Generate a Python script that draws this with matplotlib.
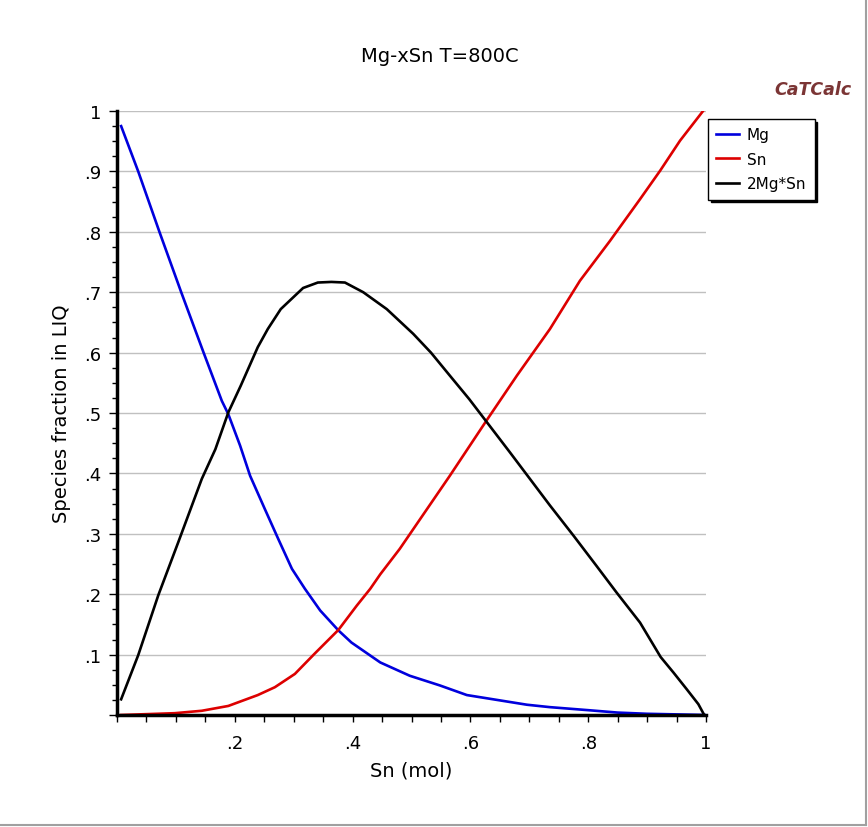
import numpy as np
import matplotlib
matplotlib.use('Agg')
import matplotlib.pyplot as plt
from matplotlib.lines import Line2D
from matplotlib.ticker import MultipleLocator, FuncFormatter

# values
mg_x = [0.007, 0.036, 0.072, 0.109, 0.147, 0.178, 0.189, 0.209, 0.226, 0.251, 0.274, 0.297, 0.319,
        0.345, 0.376, 0.398, 0.447, 0.497, 0.548, 0.594, 0.645, 0.696, 0.735, 0.8, 0.85, 0.9, 0.95, 1.0]
mg_y = [0.975, 0.9, 0.8, 0.7, 0.6, 0.52, 0.498, 0.446, 0.396, 0.341, 0.291, 0.242, 0.209,
        0.173, 0.140, 0.120, 0.087, 0.065, 0.049, 0.033, 0.025, 0.017, 0.013, 0.008, 0.004, 0.002, 0.001, 0.0]

sn_x = [0.007, 0.098, 0.144, 0.189, 0.239, 0.268, 0.302, 0.336, 0.376, 0.407, 0.430, 0.447, 0.480,
        0.565, 0.627, 0.679, 0.735, 0.786, 0.837, 0.888, 0.922, 0.956, 0.995]
sn_y = [0.0, 0.003, 0.007, 0.015, 0.033, 0.046, 0.068, 0.102, 0.141, 0.181, 0.209, 0.233, 0.275,
        0.396, 0.487, 0.562, 0.639, 0.719, 0.785, 0.854, 0.901, 0.951, 1.0]

mgsn_x = [0.007, 0.036, 0.070, 0.104, 0.144, 0.167, 0.189, 0.21, 0.239, 0.256, 0.278, 0.316, 0.341,
          0.364, 0.387, 0.418, 0.458, 0.503, 0.533, 0.565, 0.598, 0.627, 0.667, 0.701, 0.735, 0.775,
          0.814, 0.848, 0.888, 0.923, 0.945, 0.967, 0.987, 0.997]
mgsn_y = [0.026, 0.099, 0.198, 0.286, 0.391, 0.44, 0.501, 0.545, 0.609, 0.639, 0.672, 0.707, 0.716,
          0.717, 0.716, 0.700, 0.672, 0.631, 0.600, 0.562, 0.523, 0.486, 0.435, 0.391, 0.347, 0.297,
          0.247, 0.203, 0.153, 0.096, 0.07, 0.043, 0.018, 0.0]

labels = ['Mg', 'Sn', '2Mg*Sn']
colors = ['#0000dd', '#dd0000', '#000000']

plt.rcParams['font.family'] = ['DejaVu Sans']

fig = plt.figure(figsize=(8.68, 8.28), dpi=100)
# grey edge on the right and bottom of the window
fig.add_artist(Line2D([0.998, 0.998], [0.002, 1], transform=fig.transFigure, color='#a0a0a0', lw=1.5))
fig.add_artist(Line2D([0, 0.998], [0.002, 0.002], transform=fig.transFigure, color='#a0a0a0', lw=1.5))

ax = fig.add_axes([117 / 868, 112 / 828, 589 / 868, 604 / 828])

for xs, ys, lab, c in zip([mg_x, sn_x, mgsn_x], [mg_y, sn_y, mgsn_y], labels, colors):
    ax.plot(xs, ys, color=c, lw=1.9, label=lab)

ax.set_xlim(0, 1)
ax.set_ylim(0, 1)

def fmt(v, pos):  # .2 style labels, no label at zero
    if abs(v) < 1e-9:
        return ''
    if abs(v - 1) < 1e-9:
        return '1'
    return ('%.1f' % v).lstrip('0')

ax.xaxis.set_major_locator(MultipleLocator(0.2))
ax.xaxis.set_minor_locator(MultipleLocator(0.05))
ax.yaxis.set_major_locator(MultipleLocator(0.1))
ax.yaxis.set_minor_locator(MultipleLocator(0.025))
ax.xaxis.set_major_formatter(FuncFormatter(fmt))
ax.yaxis.set_major_formatter(FuncFormatter(fmt))
ax.tick_params(axis='both', which='major', length=6, width=1, labelsize=13, direction='out')
ax.tick_params(axis='both', which='minor', length=3.5, width=1, direction='out')
ax.tick_params(axis='x', which='both', length=5)
ax.tick_params(axis='x', pad=9)
ax.tick_params(axis='y', pad=5)

ax.grid(axis='y', color='#c0c0c0', lw=1)
ax.set_axisbelow(True)
for s in ['top', 'right']:
    ax.spines[s].set_visible(False)
for s in ['left', 'bottom']:
    ax.spines[s].set_linewidth(2.5)

ax.set_xlabel('Sn (mol)', fontsize=14, labelpad=6)
ax.set_ylabel('Species fraction in LIQ', fontsize=14, labelpad=10)
fig.text(440 / 868, 1 - 57 / 828, 'Mg-xSn T=800C', ha='center', va='center', fontsize=14)
fig.text(813 / 868, 1 - 90 / 828, 'CaTCalc', ha='center', va='center', fontsize=12.5,
         style='italic', weight='bold', color='#7b3535')

leg = ax.legend(loc='upper left', bbox_to_anchor=(1.003, 0.987), fontsize=11,
                fancybox=False, shadow={'color': 'black', 'alpha': 1},
                edgecolor='black', framealpha=1, borderaxespad=0, handlelength=1.5,
                handletextpad=0.5, labelspacing=0.62, borderpad=0.55)
leg.get_frame().set_linewidth(1)

fig.savefig('out.png', dpi=100)
